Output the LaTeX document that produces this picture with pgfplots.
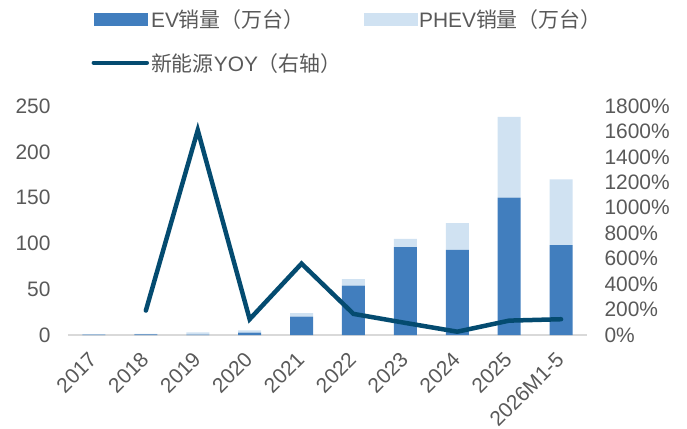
\documentclass[border=0pt]{standalone}
\usepackage{pgfplots}
\pgfplotsset{compat=1.18}
\usepackage{fontspec}
\setmainfont{Liberation Sans}
\newfontfamily\cjk{Noto Sans CJK SC}

\definecolor{evblue}{RGB}{65,126,190}
\definecolor{phevblue}{RGB}{208,226,242}
\definecolor{yoynavy}{RGB}{4,75,112}
\definecolor{txtgray}{RGB}{89,89,89}
\definecolor{axgray}{RGB}{217,217,217}

\pgfplotsset{
  /pgf/number format/assume math mode=true,
  /pgf/number format/1000 sep={},
}

\pgfplotstableread{
x  ev    phev  yoy
0  0.5   0.5   nan
1  0.6   0.7   192
2  0.3   2.7   1610
3  2.5   2.5   124
4  20    4     561
5  54    7     166
6  96    9     95
7  93    29    26
8  150   88    113
9  98    72    124
}\datatable

\begin{document}
\begin{tikzpicture}[font=\fontsize{21}{24}\selectfont, every node/.style={text=txtgray}]
  % fixed page: 1bp = 1px of the reference
  \path (-68bp,-94bp) rectangle (619bp,335bp);

  \begin{axis}[
      at={(0,0)}, anchor=south west,
      width=519bp, height=229bp, scale only axis,
      ybar stacked, bar width=23bp,
      xmin=-0.5, xmax=9.5,
      ymin=0, ymax=250,
      ytick={0,50,...,250},
      xtick={0,...,9},
      xticklabels={2017,2018,2019,2020,2021,2022,2023,2024,2025,2026M1-5},
      xticklabel style={yshift=-21bp, xshift=-1bp, rotate=45, anchor=east, inner sep=0pt, text depth=0pt},
      major x tick style={draw=none},
      extra x ticks={-0.5,0.5,...,9.5},
      extra x tick labels={},
      extra x tick style={tick align=inside, major tick length=7bp, tick style={axgray, line width=1bp}},
      axis x line*=bottom,
      axis y line*=left,
      x axis line style={axgray, line width=1.2bp, -},
      y axis line style={draw=none},
      major y tick style={draw=none},
      yticklabel style={xshift=-14bp},
      ticklabel style={text=txtgray},
    ]
    \addplot[fill=evblue, draw=none] table[x=x, y=ev] {\datatable};
    \addplot[fill=phevblue, draw=none] table[x=x, y=phev] {\datatable};
  \end{axis}

  \begin{axis}[
      at={(0,0)}, anchor=south west,
      width=519bp, height=229bp, scale only axis,
      xmin=-0.5, xmax=9.5,
      ymin=0, ymax=1800,
      ytick={0,200,...,1800},
      yticklabel={\pgfmathprintnumber{\tick}\%},
      axis x line=none,
      axis y line*=right,
      y axis line style={draw=none},
      major y tick style={draw=none},
      yticklabel style={anchor=west, xshift=14bp, text=txtgray},
      unbounded coords=jump,
      legend columns=2,
      legend cell align=left,
      legend style={
          at={(axis description cs:0.045,1.43)}, anchor=north west,
          draw=none, fill=none, inner sep=0pt,
          row sep=20bp,
          font=\fontsize{21}{24}\selectfont,
          text=txtgray,
          /tikz/every even column/.append style={column sep=20bp},
      },
    ]
    \addlegendimage{legend image code/.code={\fill[evblue] (0bp,-6bp) rectangle (53bp,6bp);}}
    \addlegendentry{EV{\cjk 销量（万台）}}
    \addlegendimage{legend image code/.code={\fill[phevblue] (0bp,-6bp) rectangle (53bp,6bp);}}
    \addlegendentry{PHEV{\cjk 销量（万台）}}
    \addplot[yoynavy, line width=4.5bp, line cap=round, line join=miter, mark=none,
      legend image code/.code={\draw[yoynavy, line width=4.5bp, line cap=round] (0bp,0bp) -- (53bp,0bp);}]
      table[x=x, y=yoy] {\datatable};
    \addlegendentry{{\cjk 新能源}YOY{\cjk （右轴）}}
  \end{axis}
\end{tikzpicture}
\end{document}
